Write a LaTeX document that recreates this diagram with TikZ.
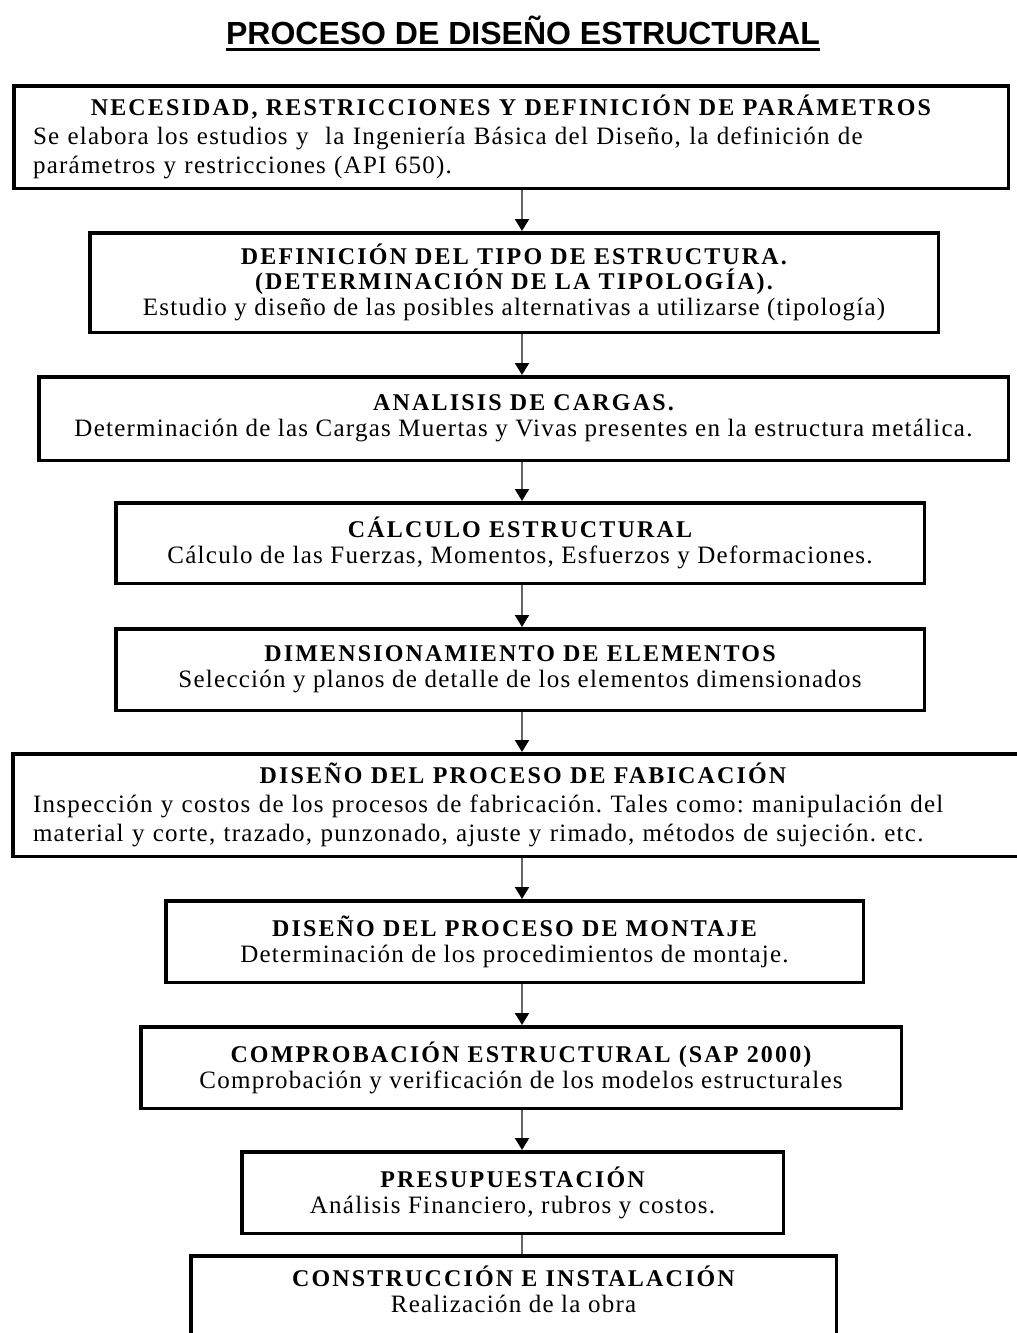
\documentclass[tikz,border=0pt]{standalone}
\usepackage{fontspec}
\setmainfont{Liberation Serif}
\newfontfamily\headfont{Liberation Sans}
\newfontfamily\stepfont[LetterSpace=5]{Liberation Serif}
\newfontfamily\stepheadfont[LetterSpace=9]{Liberation Serif}
\usetikzlibrary{arrows.meta,positioning}

\newcommand{\boxtitle}[1]{{\stepheadfont\fontsize{24}{25}\selectfont\bfseries #1}}

\begin{document}
\frenchspacing
\begin{tikzpicture}[
  x=1pt, y=-1pt,
  node distance=41pt,
  box/.style={rectangle, draw, line width=3.5pt, align=center, inner sep=6pt, font=\stepfont\fontsize{25}{29}\selectfont},
  arr/.style={draw=black!60, line width=2pt, -{Triangle[length=12pt, width=14pt, color=black]}},
  link/.style={draw=black!60, line width=2pt}
]
\clip (0,0) rectangle (1017,1333);

% Title
\node[font=\headfont\bfseries\fontsize{32}{36}\selectfont, inner sep=0pt, anchor=base] (title) at (523,44) {PROCESO DE DISEÑO ESTRUCTURAL};
\draw[line width=3pt] ([yshift=-5pt]title.base west) -- ([yshift=-5pt]title.base east);

% Steps
\node[box, align=left, inner xsep=19.25pt, text width=956pt, minimum height=102.5pt] (need) at (511,137)
  {{\centering\boxtitle{NECESIDAD, RESTRICCIONES Y DEFINICIÓN DE PARÁMETROS}\par}
   Se elabora los estudios y\ \ la Ingeniería Básica del Diseño, la definición de\\
   parámetros y restricciones (API 650).};
\node[box, minimum width=848.5pt, minimum height=99.5pt, below=of need, xshift=3pt] (type)
  {\boxtitle{DEFINICIÓN DEL TIPO DE ESTRUCTURA.}\\[-4pt]
   \boxtitle{(DETERMINACIÓN DE LA TIPOLOGÍA).}\\[-3pt]
   Estudio y diseño de las posibles alternativas a utilizarse (tipología)};
\node[box, minimum width=969.5pt, minimum height=83.5pt, below=of type, xshift=9.5pt] (loads)
  {\boxtitle{ANALISIS DE CARGAS.}\\[-3pt]
   Determinación de las Cargas Muertas y Vivas presentes en la estructura metálica.};
\node[box, minimum width=808.5pt, minimum height=80.5pt, below=39pt of loads, xshift=-3.5pt] (calc)
  {\boxtitle{CÁLCULO ESTRUCTURAL}\\[-3pt]
   Cálculo de las Fuerzas, Momentos, Esfuerzos y Deformaciones.};
\node[box, minimum width=808.5pt, minimum height=81.5pt, below=42pt of calc] (dims)
  {\boxtitle{DIMENSIONAMIENTO DE ELEMENTOS}\\[-3pt]
   Selección y planos de detalle de los elementos dimensionados};
\node[box, align=left, inner xsep=20.25pt, text width=980pt, minimum height=102.5pt, below=40pt of dims, xshift=3pt] (fab)
  {{\centering\boxtitle{DISEÑO DEL PROCESO DE FABICACIÓN}\par}
   Inspección y costos de los procesos de fabricación. Tales como: manipulación del\\
   material y corte, trazado, punzonado, ajuste y rimado, métodos de sujeción. etc.};
\node[box, minimum width=697.5pt, minimum height=81.5pt, below=of fab, xshift=-8.5pt] (mount)
  {\boxtitle{DISEÑO DEL PROCESO DE MONTAJE}\\[-3pt]
   Determinación de los procedimientos de montaje.};
\node[box, minimum width=760.5pt, minimum height=81.5pt, below=of mount, xshift=6.5pt] (check)
  {\boxtitle{COMPROBACIÓN ESTRUCTURAL (SAP 2000)}\\[-3pt]
   Comprobación y verificación de los modelos estructurales};
\node[box, minimum width=541.5pt, minimum height=81.5pt, below=40pt of check, xshift=-8.5pt] (budget)
  {\boxtitle{PRESUPUESTACIÓN}\\[-3pt]
   Análisis Financiero, rubros y costos.};
\node[box, minimum width=645.5pt, minimum height=82.5pt, text depth=16pt, below=19pt of budget, xshift=1pt] (build)
  {\boxtitle{CONSTRUCCIÓN E INSTALACIÓN}\\[-3pt]
   Realización de la obra};

% Arrows
\coordinate (axis) at (522,0);
\draw[arr] (need.south -| axis) -- (type.north -| axis);
\draw[arr] (type.south -| axis) -- (loads.north -| axis);
\draw[arr] (loads.south -| axis) -- (calc.north -| axis);
\draw[arr] (calc.south -| axis) -- (dims.north -| axis);
\draw[arr] (dims.south -| axis) -- (fab.north -| axis);
\draw[arr] (fab.south -| axis) -- (mount.north -| axis);
\draw[arr] (mount.south -| axis) -- (check.north -| axis);
\draw[arr] (check.south -| axis) -- (budget.north -| axis);
\draw[link] (budget.south -| axis) -- (build.north -| axis);

\end{tikzpicture}
\end{document}
